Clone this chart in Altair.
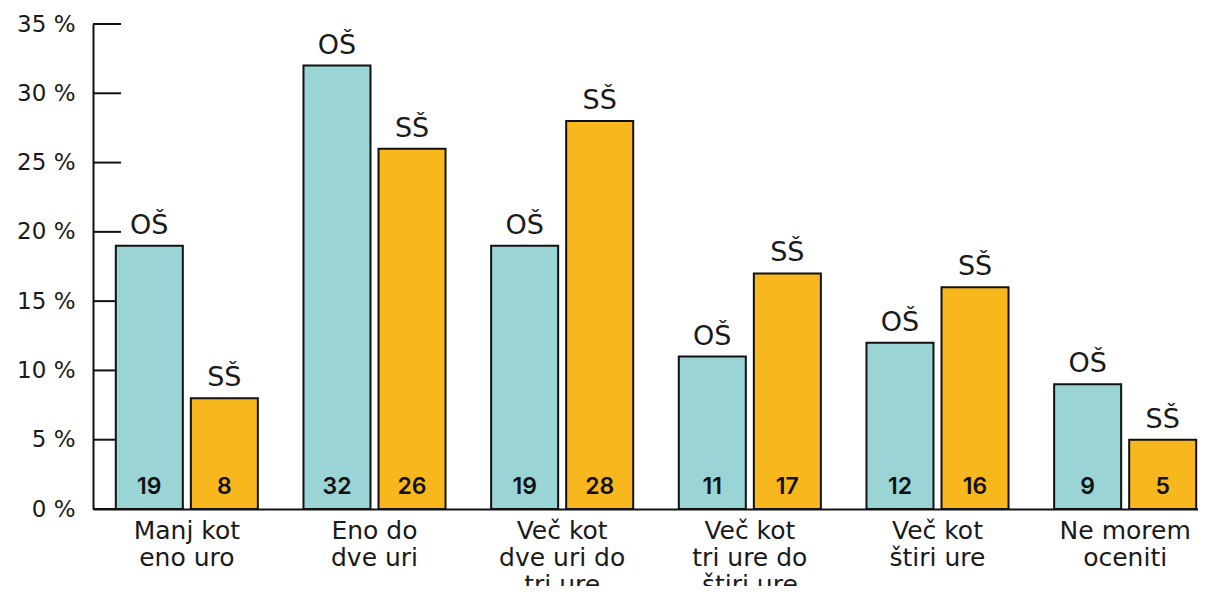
import altair as alt
import pandas as pd

categories = [
    "Manj kot\neno uro",
    "Eno do\ndve uri",
    "Več kot\ndve uri do\ntri ure",
    "Več kot\ntri ure do\nštiri ure",
    "Več kot\nštiri ure",
    "Ne morem\noceniti",
]
groups = ["OŠ", "SŠ"]
os_values = [19, 32, 19, 11, 12, 9]
ss_values = [8, 26, 28, 17, 16, 5]
tick_values = [0, 5, 10, 15, 20, 25, 30, 35]
colors = ["#9bd4d5", "#f8b71c"]

rows = []
for c, a, b in zip(categories, os_values, ss_values):
    rows.append({"cat": c, "grp": "OŠ", "val": a})
    rows.append({"cat": c, "grp": "SŠ", "val": b})
df = pd.DataFrame(rows)
ticks_df = pd.DataFrame({"t": tick_values})

FONT = "DejaVu Sans"
NUMFONT = "Inter"
TXT = "#1a1a1a"

x_enc = alt.X(
    "cat:N",
    sort=categories,
    scale=alt.Scale(range=[0, 1126], paddingInner=0.243, paddingOuter=0.1215),
    axis=alt.Axis(
        title=None,
        labelExpr="split(datum.label, '\\n')",
        labelAngle=0,
        labelFontSize=25,
        labelFont=FONT,
        labelColor=TXT,
        labelLineHeight=27,
        labelPadding=9,
        ticks=False,
        domainColor="#111111",
        domainWidth=2,
        labelBaseline="top",
    ),
)
xo_enc = alt.XOffset("grp:N", sort=groups, scale=alt.Scale(paddingInner=0.107, paddingOuter=0))
y_scale = alt.Scale(domain=[0, 35], nice=False)

tick_rules = alt.Chart(ticks_df).mark_rule(color="#111111", strokeWidth=2).encode(
    y=alt.Y("t:Q", scale=y_scale),
    x=alt.value(0),
    x2=alt.value(28),
)

bars = alt.Chart(df).mark_bar(stroke="#111111", strokeWidth=2).encode(
    x=x_enc,
    xOffset=xo_enc,
    y=alt.Y(
        "val:Q",
        scale=y_scale,
        axis=alt.Axis(
            title=None,
            values=tick_values,
            labelExpr="datum.value + ' %'",
            ticks=False,
            grid=False,
            domainColor="#111111",
            domainWidth=2,
            labelFontSize=23,
            labelFont=FONT,
            labelColor=TXT,
            labelPadding=18,
        ),
    ),
    color=alt.Color("grp:N", sort=groups, scale=alt.Scale(domain=groups, range=colors), legend=None),
)

grp_labels = alt.Chart(df).mark_text(
    baseline="alphabetic", dy=-12, fontSize=27, font=FONT, color=TXT
).encode(
    x=alt.X("cat:N", sort=categories),
    xOffset=alt.XOffset("grp:N", sort=groups),
    y=alt.Y("val:Q"),
    text="grp:N",
)

val_labels = alt.Chart(df).mark_text(
    baseline="alphabetic", dy=-15, fontSize=23, font=NUMFONT, fontWeight=600, color="#111111"
).encode(
    x=alt.X("cat:N", sort=categories),
    xOffset=alt.XOffset("grp:N", sort=groups),
    y=alt.datum(0),
    text="val:Q",
)

chart = (
    alt.layer(tick_rules, bars, grp_labels, val_labels)
    .properties(
        width=1105,
        height=485,
        autosize=alt.AutoSizeParams(type="none"),
        padding={"left": 85, "top": 16, "right": 0, "bottom": 77},
    )
    .configure_view(stroke=None)
)

chart.save("out.html", embed_options={"renderer": "svg", "actions": False})
